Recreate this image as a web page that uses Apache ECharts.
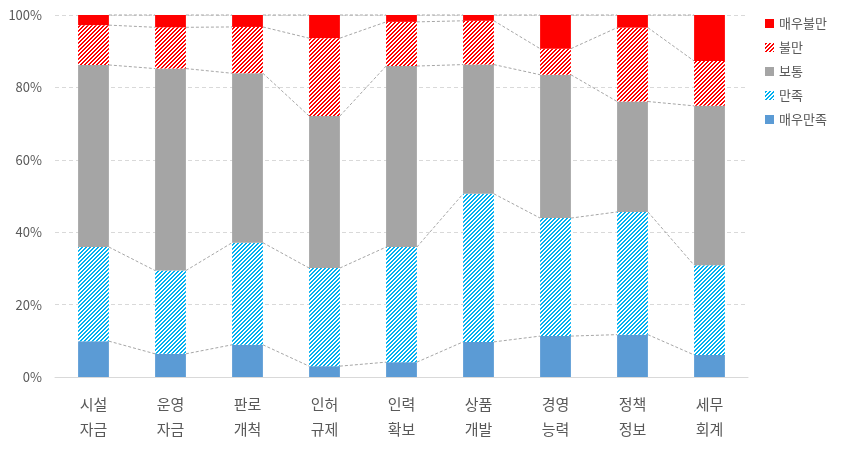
<!DOCTYPE html>
<html><head><meta charset="utf-8">
<script src="https://cdn.jsdelivr.net/npm/echarts@6/dist/echarts.min.js"></script>
<style>html,body{margin:0;padding:0;background:#fff}#c{width:846px;height:452px}</style>
</head><body><div id="c"></div>
<script>
const categories = ['시설\n자금','운영\n자금','판로\n개척','인허\n규제','인력\n확보','상품\n개발','경영\n능력','정책\n정보','세무\n회계'];
const veryGood = [9.9, 6.4, 8.9, 3.0, 4.1, 9.7, 11.3, 11.7, 6.1];
const good     = [26.0, 23.0, 28.2, 27.1, 31.8, 40.9, 32.6, 33.9, 24.8];
const normal   = [50.3, 55.8, 46.8, 42.0, 50.0, 35.7, 39.6, 30.5, 44.0];
const bad      = [11.0, 11.4, 12.8, 21.5, 12.2, 12.1, 7.2, 20.4, 12.4];
const veryBad  = [2.8, 3.4, 3.3, 6.4, 1.9, 1.6, 9.3, 3.5, 12.7];
const yTicks = [0, 20, 40, 60, 80, 100];

function hatch(color) {
  const c = document.createElement('canvas');
  c.width = 4; c.height = 4;
  const ctx = c.getContext('2d');
  ctx.fillStyle = '#fff'; ctx.fillRect(0, 0, 4, 4);
  ctx.fillStyle = color;
  for (let x = 0; x < 4; x++) for (let y = 0; y < 4; y++) {
    const m = (x + y) % 4;
    if (m === 0 || m === 1) ctx.fillRect(x, y, 1, 1);
  }
  return { image: c, repeat: 'repeat' };
}

const stacks = [veryGood, good, normal, bad, veryBad];
const cum = [];
let run = categories.map(() => 0);
stacks.forEach(s => { run = run.map((v, i) => v + s[i]); cum.push(run.slice()); });
const lineData = [];
cum.forEach(arr => { for (let i = 0; i < arr.length - 1; i++) lineData.push([i, arr[i], arr[i + 1]]); });

const chart = echarts.init(document.getElementById('c'), null, { renderer: 'canvas' });
const font = '"Noto Sans CJK KR", "Noto Sans", sans-serif';
const barCommon = { type: 'bar', stack: 'all', barWidth: '40%', emphasis: { disabled: true } };
chart.setOption({
  animation: false,
  textStyle: { fontFamily: font },
  grid: { left: 55, right: 98, top: 15, bottom: 75 },
  legend: {
    orient: 'vertical', left: 760, top: 12, itemWidth: 9, itemHeight: 9, itemGap: 11, icon: 'rect',
    textStyle: { color: '#595959', fontSize: 13, fontFamily: font },
    data: ['매우불만', '불만', '보통', '만족', '매우만족']
  },
  xAxis: {
    type: 'category', data: categories,
    axisTick: { show: false },
    axisLine: { lineStyle: { color: '#D9D9D9' } },
    axisLabel: { color: '#595959', fontSize: 15, lineHeight: 25, margin: 15, fontFamily: font }
  },
  yAxis: {
    type: 'value', min: yTicks[0], max: yTicks[yTicks.length - 1], interval: 20,
    axisLabel: { color: '#595959', fontSize: 13, formatter: '{value}%', margin: 13, fontFamily: font },
    splitLine: { lineStyle: { color: '#D9D9D9', type: [4, 3] } },
    axisLine: { show: false }, axisTick: { show: false }
  },
  series: [
    Object.assign({ name: '매우만족', data: veryGood, itemStyle: { color: '#5B9BD5' } }, barCommon),
    Object.assign({ name: '만족', data: good, itemStyle: { color: hatch('#00B0F0') } }, barCommon),
    Object.assign({ name: '보통', data: normal, itemStyle: { color: '#A5A5A5' } }, barCommon),
    Object.assign({ name: '불만', data: bad, itemStyle: { color: hatch('#FF0000') } }, barCommon),
    Object.assign({ name: '매우불만', data: veryBad, itemStyle: { color: '#FF0000' } }, barCommon),
    {
      type: 'custom', name: 'serieslines', data: lineData, z: 1, silent: true,
      encode: { x: 0, y: [1, 2] },
      renderItem: function (params, api) {
        const i = api.value(0);
        const p1 = api.coord([i, api.value(1)]);
        const p2 = api.coord([i + 1, api.value(2)]);
        const hw = api.size([1, 0])[0] * 0.4 / 2;
        return {
          type: 'line',
          shape: { x1: p1[0] + hw, y1: p1[1], x2: p2[0] - hw, y2: p2[1] },
          style: { stroke: '#A6A6A6', lineWidth: 1, lineDash: [3, 2] }
        };
      }
    }
  ]
});
</script></body></html>
